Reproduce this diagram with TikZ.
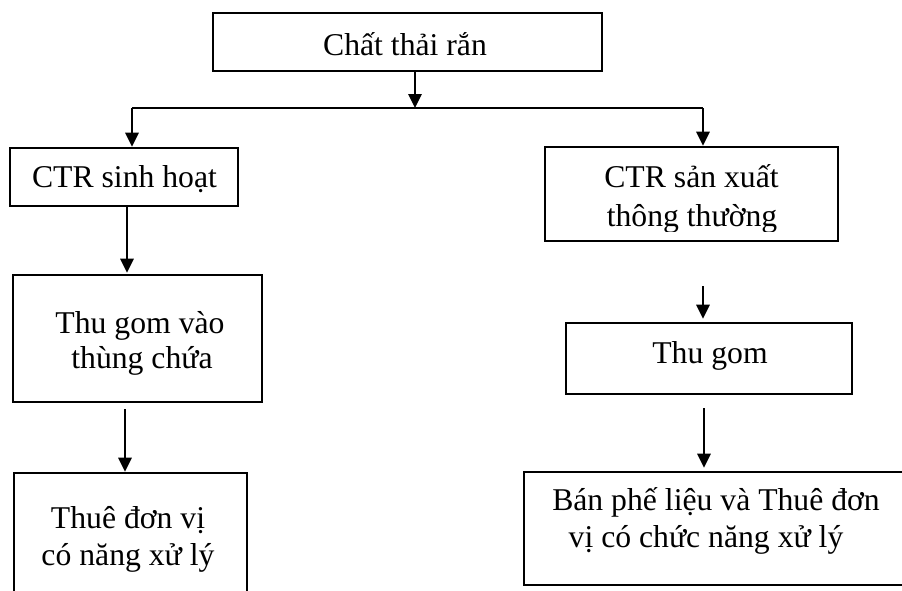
\documentclass[tikz,border=0pt]{standalone}
\usepackage{fontspec}
\setmainfont{Liberation Serif}
\usetikzlibrary{arrows.meta}
\begin{document}
\begin{tikzpicture}[x=1pt,y=-1pt,
  box/.style={draw,line width=2.7pt,rectangle,inner sep=0pt},
  lbl/.style={inner sep=0pt,anchor=base,font=\fontsize{31.7}{36}\selectfont},
  conn/.style={line width=1.5pt},
  arr/.style={conn,-{Triangle[width=13.5pt,length=14pt]}}]
\useasboundingbox (0,0) rectangle (902,590);
\clip (0,0) rectangle (902,590);

% boxes
\node[box,minimum width=389pt,minimum height=58pt] (top) at (407.5,42) {};
\node[box,minimum width=228pt,minimum height=58pt] (sinh) at (124,177) {};
\node[box,minimum width=249pt,minimum height=127pt] (gomA) at (137.5,338.5) {};
\node[box,minimum width=233pt,minimum height=147pt] (thueA) at (130.5,546.5) {};
\node[box,minimum width=293pt,minimum height=94pt] (sx) at (691.5,194) {};
\node[box,minimum width=286pt,minimum height=71pt] (gomB) at (709,358.5) {};
\node[box,minimum width=396pt,minimum height=113pt] (ban) at (722,528.5) {};

% labels
\node[lbl] (tTop) at (405,55) {Chất thải rắn};
\node[lbl] (tSinh) at (124.5,187) {CTR sinh hoạt};
\node[lbl] (tGomA1) at (140,333) {Thu gom vào};
\node[lbl] (tGomA2) at (142,368) {thùng chứa};
\node[lbl] (tThueA1) at (128,528) {Thuê đơn vị};
\node[lbl] (tThueA2) at (128,565) {có năng xử lý};
\node[lbl] (tSx1) at (691.5,187) {CTR sản xuất};
\begin{scope}
  \clip (547,149) rectangle (836,231);
  \node[lbl] (tSx2) at (692,226) {thông thường};
\end{scope}
\node[lbl] (tGomB) at (710,363) {Thu gom};
\node[lbl] (tBan1) at (716,510) {Bán phế liệu và Thuê đơn};
\node[lbl] (tBan2) at (706,547) {vị có chức năng xử lý};

% connectors
\coordinate (split) at (415,108);
\coordinate (splitL) at (132,108);
\coordinate (splitR) at (703,108);
\draw[arr] (top.south -| split) -- (split);
\draw[conn] (splitL) -- (splitR);
\draw[arr] (splitL) -- (splitL |- sinh.north);
\draw[arr] (splitR) -- (splitR |- sx.north);
\draw[arr,shorten >=1pt] (sinh.south -| 127,0) -- (gomA.north -| 127,0);
\draw[arr,shorten <=6pt] (gomA.south -| 125,0) -- (thueA.north -| 125,0);
\draw[arr,shorten <=44pt,shorten >=3pt] (sx.south -| 703,0) -- (gomB.north -| 703,0);
\draw[arr,shorten <=13pt,shorten >=3pt] (gomB.south -| 704,0) -- (ban.north -| 704,0);
\end{tikzpicture}
\end{document}
